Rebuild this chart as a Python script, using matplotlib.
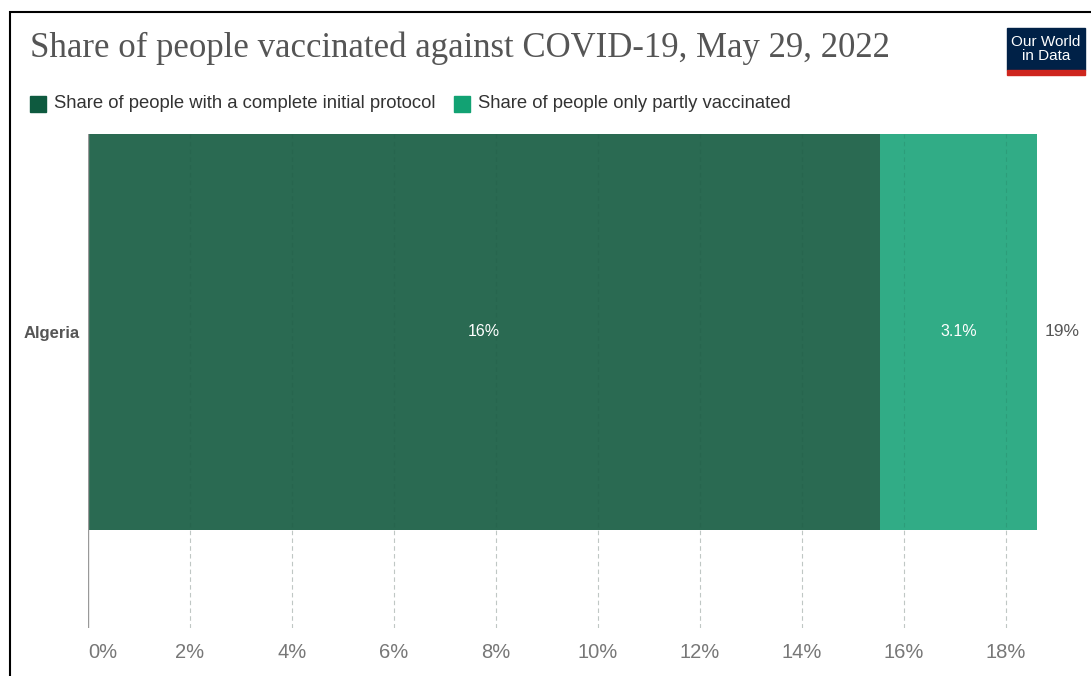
import matplotlib.pyplot as plt
from matplotlib.patches import Rectangle

# ---- data ----
countries = ["Algeria"]
complete_protocol = [15.53]
partly_vaccinated = [3.08]
totals_label = ["19%"]
complete_label = ["16%"]
partly_label = ["3.1%"]
x_ticks = [0, 2, 4, 6, 8, 10, 12, 14, 16, 18]

DARK = "#2A6A52"
LIGHT = "#31AC86"
W, H = 1091, 676

fig = plt.figure(figsize=(W / 100, H / 100), dpi=100)

# frame like the screenshot border (left + top visible)
fig.patches.append(Rectangle((10 / W, -0.1), 1.2, 1 - 12 / H + 0.1, transform=fig.transFigure,
                             fill=False, edgecolor="black", lw=1.5))

# axes: x 0..18.6% spans pixel 88..1037 (51 px per %)
left_px, right_px = 88, 1091 - 30
top_px, bot_px = 134, 628
ax = fig.add_axes([left_px / W, 1 - bot_px / H, (right_px - left_px) / W, (bot_px - top_px) / H])
xmax = (right_px - left_px) / 51.0
ax.set_xlim(0, xmax)
ax.set_ylim(-0.5 - (bot_px - 530) / 396, 0.5)

y = list(range(len(countries)))
ax.barh(y, complete_protocol, height=1.0, color=DARK, zorder=1)
ax.barh(y, partly_vaccinated, left=complete_protocol, height=1.0, color=LIGHT, zorder=1)

for i in y:
    c, p = complete_protocol[i], partly_vaccinated[i]
    ax.text(c / 2, i, complete_label[i], color="white", ha="center", va="center",
            fontsize=11.5, family="Liberation Sans")
    ax.text(c + p / 2, i, partly_label[i], color="white", ha="center", va="center",
            fontsize=11.5, family="Liberation Sans")
    ax.text(c + p + 0.15, i, totals_label[i], color="#555555", ha="left", va="center",
            fontsize=12.5, family="Liberation Sans")

ax.set_yticks(y)
ax.set_yticklabels(countries, fontsize=12, fontweight="bold", color="#555555", family="Liberation Sans")
ax.tick_params(axis="y", length=0, pad=6)

ax.set_xticks(x_ticks)
ax.set_xticklabels([f"{t}%" for t in x_ticks], fontsize=14.5, color="#777777", family="Liberation Sans")
ax.tick_params(axis="x", length=0, pad=11)
ax.get_xticklabels()[0].set_horizontalalignment("left")

for t in x_ticks[1:]:
    ax.axvline(t, color="#dddddd", lw=0.8, ls=(0, (4, 3)), zorder=0)
    ax.axvline(t, color="#1a4a3a", lw=0.8, ls=(0, (4, 3)), zorder=2, alpha=0.15)
ax.axvline(0, color="#999999", lw=1, zorder=3)

for s in ax.spines.values():
    s.set_visible(False)

# title
fig.text(30 / W, 1 - 48 / H, "Share of people vaccinated against COVID-19, May 29, 2022",
         fontsize=25, color="#555555", family="Liberation Serif", va="center", ha="left")

# legend
fig.patches.append(Rectangle((30 / W, 1 - 112 / H), 16 / W, 16 / H, transform=fig.transFigure,
                             color="#0E5A3F"))
fig.text(54 / W, 1 - 103 / H, "Share of people with a complete initial protocol", fontsize=13.3,
         color="#333333", family="Liberation Sans", va="center")
fig.patches.append(Rectangle((454 / W, 1 - 112 / H), 16 / W, 16 / H, transform=fig.transFigure,
                             color="#12A273"))
fig.text(478 / W, 1 - 103 / H, "Share of people only partly vaccinated", fontsize=13.3,
         color="#333333", family="Liberation Sans", va="center")

# logo
fig.patches.append(Rectangle((1007 / W, 1 - 70 / H), 78 / W, 42 / H, transform=fig.transFigure,
                             color="#002147"))
fig.patches.append(Rectangle((1007 / W, 1 - 75 / H), 78 / W, 5 / H, transform=fig.transFigure,
                             color="#CE261E"))
fig.text(1046 / W, 1 - 49 / H, "Our World\nin Data", fontsize=11, color="white",
         family="Liberation Sans", ha="center", va="center", linespacing=1.0)

fig.savefig("out.png", dpi=100, facecolor="white")
